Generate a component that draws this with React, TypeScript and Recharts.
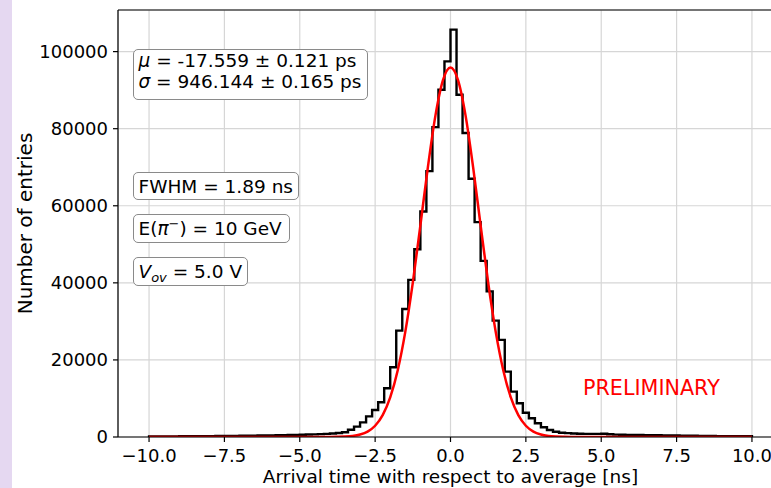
import { ComposedChart, Line, XAxis, YAxis, CartesianGrid, ReferenceLine } from "recharts"

const font = "'DejaVu Sans', sans-serif"

// histogram: 100 bins of 0.2 ns from -10 to 10
const binStart = -10
const binWidth = 0.2
const histCounts = [
  150, 150, 160, 170, 170, 180, 190, 200, 210, 220,
  230, 250, 260, 280, 290, 310, 330, 350, 370, 390,
  410, 440, 470, 500, 540, 580, 630, 680, 740, 820,
  900, 1050, 1250, 1900, 2700, 3800, 5350, 7000, 9000, 12650,
  18100, 27600, 33200, 40770, 48700, 58500, 69000, 80400, 90100, 97460,
  105700, 88800, 78870, 67000, 55750, 45700, 37800, 30200, 25200, 16960,
  11770, 8750, 6310, 4850, 3550, 2520, 1820, 1380, 1120, 1000,
  900, 850, 820, 800, 800, 850, 700, 620, 580, 550,
  520, 500, 480, 460, 440, 420, 400, 380, 360, 340,
  320, 300, 280, 260, 240, 230, 210, 200, 190, 180,
]

// gaussian fit
const fitX = [
  -10, -6, -5, -4.5, -4, -3.75, -3.5, -3.25, -3, -2.75, -2.5, -2.25, -2, -1.75, -1.5, -1.25, -1, -0.75, -0.5, -0.25,
  0, 0.25, 0.5, 0.75, 1, 1.25, 1.5, 1.75, 2, 2.25, 2.5, 2.75, 3, 3.25, 3.5, 3.75, 4, 4.5, 5, 6, 10,
]
const fitY = [
  0, 0, 1, 3, 12, 37, 100, 263, 630, 1400, 2920, 5670, 10260, 17330, 27280, 40060, 54860, 70040, 83400, 92610,
  95900, 92610, 83400, 70040, 54860, 40060, 27280, 17330, 10260, 5670, 2920, 1400, 630, 263, 100, 37, 12, 3, 1, 0, 0,
]

const xTicks = [-10, -7.5, -5, -2.5, 0, 2.5, 5, 7.5, 10]
const yTicks = [0, 20000, 40000, 60000, 80000, 100000]
const xDomain = [-11.03, 11.03]
const yMax = 110800

const lastCount = histCounts[histCounts.length - 1]
const histEnd = +(binStart + histCounts.length * binWidth).toFixed(1)
const histData = [
  { x: binStart, count: 0 },
  ...histCounts.map((c, i) => ({ x: +(binStart + i * binWidth).toFixed(1), count: c })),
  { x: histEnd, count: lastCount },
  { x: histEnd, count: 0 },
]
const fitData = fitX.map((x, i) => ({ x, fit: fitY[i] }))

const fmtX = (v: number) => v.toFixed(1).replace("-", "\u2212")

function Box({ left, top, width, height, children, center = true }: any) {
  return (
    <div
      style={{
        position: "absolute",
        left,
        top,
        width,
        height,
        boxSizing: "border-box",
        border: "1px solid #8a8a8a",
        borderRadius: 5,
        background: "#fff",
        paddingLeft: 4.5,
        display: center ? "flex" : "block",
        alignItems: "center",
        fontFamily: font,
        fontSize: 18.5,
        lineHeight: "21px",
        color: "#000",
        whiteSpace: "nowrap",
      }}
    >
      {center ? <div>{children}</div> : children}
    </div>
  )
}

export default function App() {
  return (
    <div style={{ position: "absolute", left: 0, top: 0, width: 771, height: 488, overflow: "hidden", background: "#fff" }}>
      <ComposedChart width={800} height={488} margin={{ top: 10, right: 17, bottom: 0, left: 0 }}>
        <CartesianGrid stroke="#d6d6d6" strokeWidth={1.2} />
        <XAxis
          dataKey="x"
          type="number"
          domain={xDomain}
          allowDataOverflow
          ticks={xTicks}
          interval={0}
          tickFormatter={fmtX}
          height={51}
          tickSize={5}
          tickMargin={7}
          stroke="#000"
          strokeWidth={1.2}
          tick={{ fill: "#000", fontSize: 18, fontFamily: font }}
          label={{ value: "Arrival time with respect to average [ns]", position: "insideBottom", offset: 5, fill: "#000", fontSize: 18.5, fontFamily: font }}
        />
        <YAxis
          type="number"
          domain={[0, yMax]}
          allowDataOverflow
          ticks={yTicks}
          interval={0}
          width={118}
          tickSize={5}
          tickMargin={5}
          stroke="#000"
          strokeWidth={1.2}
          tick={{ fill: "#000", fontSize: 18, fontFamily: font }}
          label={() => (
            <text x={32} y={223.5} transform="rotate(-90 32 223.5)" textAnchor="middle" fill="#000" fontSize={20} fontFamily={font}>
              Number of entries
            </text>
          )}
        />
        <ReferenceLine y={yMax} stroke="#000" strokeWidth={1.2} />
        <Line
          data={histData}
          dataKey="count"
          type="stepAfter"
          stroke="#000"
          strokeWidth={2.4}
          dot={false}
          activeDot={false}
          isAnimationActive={false}
        />
        <Line
          data={fitData}
          dataKey="fit"
          type="monotone"
          stroke="#ff0000"
          strokeWidth={2.5}
          dot={false}
          activeDot={false}
          isAnimationActive={false}
        />
      </ComposedChart>

      <div style={{ position: "absolute", left: 0, top: 0, width: 12, height: 488, background: "#e5d8f1" }} />

      <Box left={133} top={49} width={235} height={51} center={false}>
        <div><i>μ</i> = -17.559 ± 0.121 ps</div>
        <div><i>σ</i> = 946.144 ± 0.165 ps</div>
      </Box>
      <Box left={133} top={172} width={166} height={28}>FWHM = 1.89 ns</Box>
      <Box left={133} top={214} width={157} height={29}>
        E(<i>π</i><sup style={{ fontSize: 13, lineHeight: 0, verticalAlign: 7 }}>−</sup>) = 10 GeV
      </Box>
      <Box left={133} top={257} width={115} height={29}>
        <i>V</i><sub style={{ fontSize: 13, lineHeight: 0, verticalAlign: -4 }}><i>ov</i></sub> = 5.0 V
      </Box>

      <div style={{ position: "absolute", left: 583, top: 375.5, fontFamily: font, fontSize: 20.7, lineHeight: "24px", color: "#ff0000" }}>
        PRELIMINARY
      </div>
    </div>
  )
}
